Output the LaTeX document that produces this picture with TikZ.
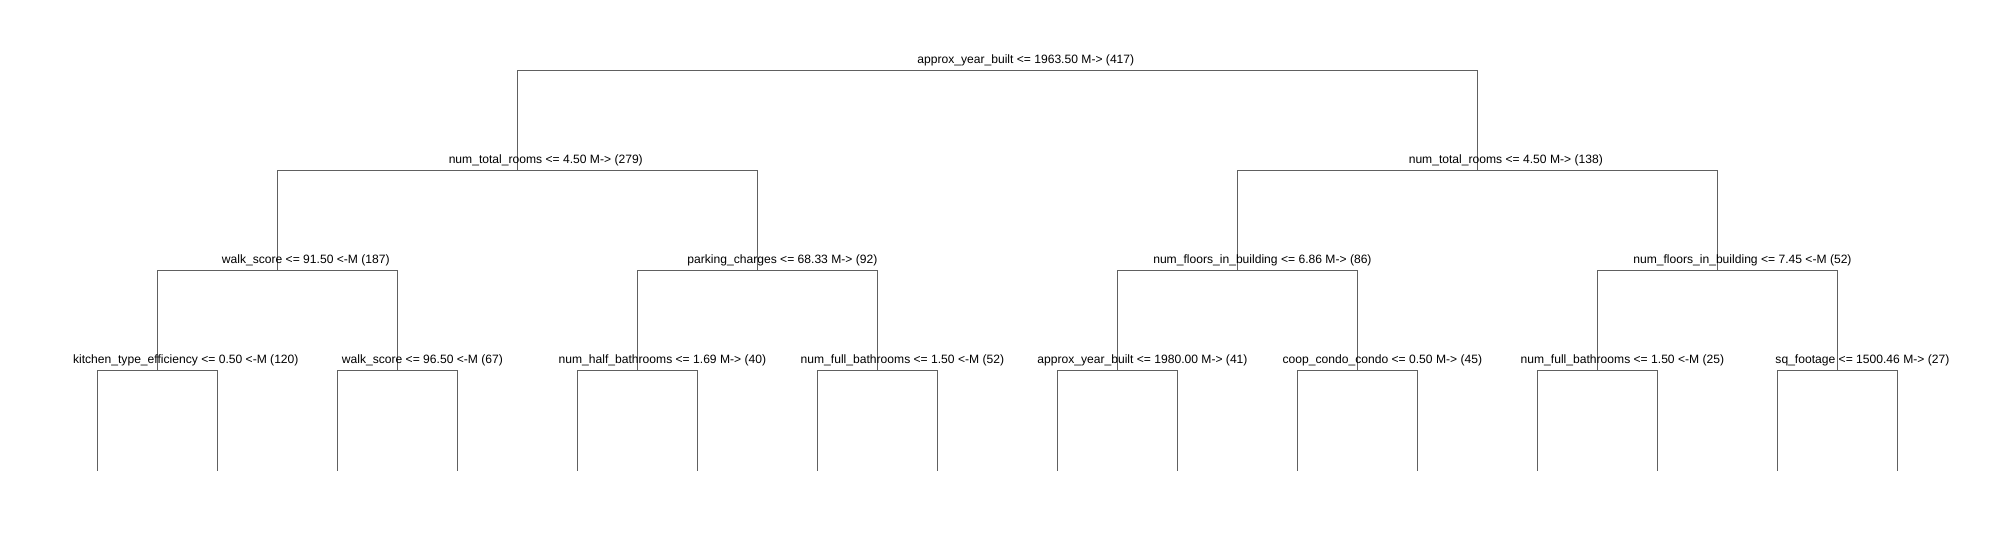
\documentclass[tikz,border=0pt]{standalone}
\usepackage{fontspec}
\setmainfont{Liberation Sans}
\definecolor{linegray}{RGB}{96,96,96}
\newlength\splitw
\newsavebox\splitbox
\newcommand\labfont{\fontsize{12.1}{14.5}\selectfont}
\newcommand\splitlabel[4]{%
  \pgfinterruptpicture
    \global\setbox\splitbox=\hbox{\labfont #3}%
  \endpgfinterruptpicture
  \setlength\splitw{0.5\wd\splitbox}%
  \node[lab] (#1) at ([xshift=-\splitw, yshift=7pt]#2) {#3#4};}
\begin{document}
\begin{tikzpicture}[x=1pt, y=-1pt,
  conn/.style={draw=linegray, line width=1.1pt},
  lab/.style={anchor=base west, inner sep=0pt, outer sep=0pt, text=black, font=\labfont}]
\useasboundingbox[fill=white] (0,0) rectangle (2015,540);
% tree nodes (x, bar level)
\coordinate (r)   at (997.7,70.5);
\coordinate (a)   at (517.7,170.5);
\coordinate (b)   at (1477.7,170.5);
\coordinate (aa)  at (277.7,270.5);
\coordinate (ab)  at (757.7,270.5);
\coordinate (ba)  at (1237.7,270.5);
\coordinate (bb)  at (1717.7,270.5);
\coordinate (aaa) at (157.7,370.5);
\coordinate (aab) at (397.7,370.5);
\coordinate (aba) at (637.7,370.5);
\coordinate (abb) at (877.7,370.5);
\coordinate (baa) at (1117.7,370.5);
\coordinate (bab) at (1357.7,370.5);
\coordinate (bba) at (1597.7,370.5);
\coordinate (bbb) at (1837.7,370.5);
\foreach \i in {1,...,16} {\coordinate (l\i) at ({97.7+120*(\i-1)},470.5);}
% connectors
\draw[conn] (r) -| (a);   \draw[conn] (r) -| (b);
\draw[conn] (a) -| (aa);  \draw[conn] (a) -| (ab);
\draw[conn] (b) -| (ba);  \draw[conn] (b) -| (bb);
\draw[conn] (aa) -| (aaa); \draw[conn] (aa) -| (aab);
\draw[conn] (ab) -| (aba); \draw[conn] (ab) -| (abb);
\draw[conn] (ba) -| (baa); \draw[conn] (ba) -| (bab);
\draw[conn] (bb) -| (bba); \draw[conn] (bb) -| (bbb);
\draw[conn] (aaa) -| (l1);  \draw[conn] (aaa) -| (l2);
\draw[conn] (aab) -| (l3);  \draw[conn] (aab) -| (l4);
\draw[conn] (aba) -| (l5);  \draw[conn] (aba) -| (l6);
\draw[conn] (abb) -| (l7);  \draw[conn] (abb) -| (l8);
\draw[conn] (baa) -| (l9);  \draw[conn] (baa) -| (l10);
\draw[conn] (bab) -| (l11); \draw[conn] (bab) -| (l12);
\draw[conn] (bba) -| (l13); \draw[conn] (bba) -| (l14);
\draw[conn] (bbb) -| (l15); \draw[conn] (bbb) -| (l16);
% labels
\splitlabel{tr}{r}{approx\_year\_built <= 1963.50}{ M-> (417)}
\splitlabel{ta}{a}{num\_total\_rooms <= 4.50}{ M-> (279)}
\splitlabel{tb}{b}{num\_total\_rooms <= 4.50}{ M-> (138)}
\splitlabel{taa}{aa}{walk\_score <= 91.50}{ <-M (187)}
\splitlabel{tab}{ab}{parking\_charges <= 68.33}{ M-> (92)}
\splitlabel{tba}{ba}{num\_floors\_in\_building <= 6.86}{ M-> (86)}
\splitlabel{tbb}{bb}{num\_floors\_in\_building <= 7.45}{ <-M (52)}
\splitlabel{taaa}{aaa}{kitchen\_type\_efficiency <= 0.50}{ <-M (120)}
\splitlabel{taab}{aab}{walk\_score <= 96.50}{ <-M (67)}
\splitlabel{taba}{aba}{num\_half\_bathrooms <= 1.69}{ M-> (40)}
\splitlabel{tabb}{abb}{num\_full\_bathrooms <= 1.50}{ <-M (52)}
\splitlabel{tbaa}{baa}{approx\_year\_built <= 1980.00}{ M-> (41)}
\splitlabel{tbab}{bab}{coop\_condo\_condo <= 0.50}{ M-> (45)}
\splitlabel{tbba}{bba}{num\_full\_bathrooms <= 1.50}{ <-M (25)}
\splitlabel{tbbb}{bbb}{sq\_footage <= 1500.46}{ M-> (27)}
\end{tikzpicture}
\end{document}
